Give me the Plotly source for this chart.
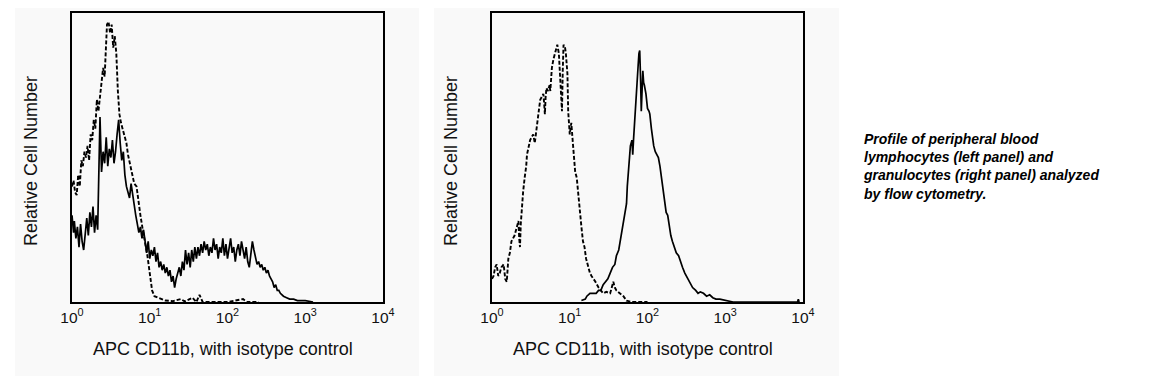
import plotly.graph_objects as go

# ---------------- data (x in log10 fluorescence decades, y relative cell number) ----------
left_iso_log = [0.00, 0.02, 0.04, 0.06, 0.08, 0.10, 0.12, 0.14, 0.16, 0.18, 0.20, 0.22, 0.24, 0.26,
                0.28, 0.30, 0.32, 0.34, 0.36, 0.38, 0.40, 0.42, 0.44, 0.45, 0.47, 0.49, 0.51, 0.53,
                0.55, 0.57, 0.59, 0.61, 0.63, 0.65, 0.67, 0.70, 0.72, 0.75, 0.78, 0.80, 0.83, 0.86,
                0.88, 0.91, 0.94, 0.97, 1.00, 1.03, 1.06, 1.10, 1.15, 1.20, 1.30, 1.40, 1.45, 1.55,
                1.60, 1.64, 1.68, 2.00, 2.20, 2.25, 2.40]
left_iso_val = [40, 42, 38, 37, 44, 40, 49, 47, 52, 50, 54, 49, 58, 56,
                63, 60, 70, 66, 71, 76, 81, 78, 90, 96, 97, 93, 96, 88,
                92, 86, 73, 65, 62, 60, 58, 55, 51, 47, 44, 41, 40, 33,
                30, 25, 21, 16, 10, 4, 2, 1.5, 1, 0.5, 0.3, 1, 0.2, 1.5,
                0, 2.5, 0, 0, 1, 0, 0]

left_cd_log = [0.00, 0.02, 0.03, 0.05, 0.07, 0.09, 0.11, 0.13, 0.15, 0.17, 0.19, 0.21, 0.23, 0.25,
               0.27, 0.29, 0.31, 0.33, 0.35, 0.36, 0.38, 0.40, 0.42, 0.44, 0.46, 0.48, 0.50, 0.52,
               0.54, 0.56, 0.58, 0.60, 0.62, 0.64, 0.66, 0.68, 0.70, 0.72, 0.74, 0.76, 0.78, 0.80,
               0.82, 0.84, 0.86, 0.88, 0.90, 0.92, 0.94, 0.96, 0.98, 1.00, 1.02, 1.04, 1.06, 1.08,
               1.10, 1.12, 1.14, 1.16, 1.18, 1.20, 1.22, 1.24, 1.26, 1.28, 1.30, 1.32, 1.34, 1.36,
               1.38, 1.40, 1.42, 1.44, 1.46, 1.48, 1.50, 1.52, 1.54, 1.56, 1.58, 1.60, 1.62, 1.64,
               1.66, 1.68, 1.70, 1.72, 1.74, 1.76, 1.78, 1.80, 1.82, 1.84, 1.86, 1.88, 1.90, 1.92,
               1.94, 1.96, 1.98, 2.00, 2.02, 2.04, 2.06, 2.08, 2.10, 2.12, 2.14, 2.16, 2.18, 2.20,
               2.22, 2.24, 2.26, 2.28, 2.30, 2.32, 2.34, 2.36, 2.38, 2.40, 2.42, 2.44, 2.46, 2.48,
               2.50, 2.52, 2.54, 2.56, 2.58, 2.60, 2.62, 2.64, 2.66, 2.68, 2.70, 2.72, 2.76, 2.80,
               2.85, 2.90, 3.00, 3.05, 3.10]
left_cd_val = [30, 24, 28, 22, 26, 19, 27, 21, 18, 24, 29, 23, 31, 26,
               33, 24, 30, 25, 50, 64, 45, 52, 48, 57, 47, 53, 50, 56,
               48, 52, 58, 63, 55, 49, 52, 44, 40, 38, 36, 41, 37, 33,
               30, 27, 24, 26, 22, 25, 20, 17, 21, 15, 18, 16, 19, 14,
               17, 12, 14, 11, 13, 10, 12, 9, 11, 7, 9, 5, 8, 10,
               12, 9, 14, 11, 18, 13, 17, 12, 18, 14, 19, 15, 19, 16,
               20, 17, 21, 18, 20, 16, 19, 17, 22, 18, 20, 15, 19, 17,
               22, 16, 20, 15, 18, 22, 17, 19, 14, 18, 20, 16, 21, 18,
               15, 19, 14, 12, 17, 21, 18, 15, 13, 14, 12, 13, 11, 12,
               10, 11, 9, 8, 7, 5, 6, 4, 4, 3, 2.5, 2, 1.5, 1,
               1, 0.5, 0.5, 0.3, 0]

right_iso_log = [0.00, 0.02, 0.04, 0.06, 0.08, 0.10, 0.12, 0.15, 0.17, 0.19, 0.21, 0.23, 0.25, 0.27,
                 0.29, 0.31, 0.33, 0.34, 0.35, 0.36, 0.37, 0.38, 0.40, 0.42, 0.44, 0.45, 0.47, 0.49,
                 0.51, 0.53, 0.55, 0.57, 0.59, 0.60, 0.62, 0.64, 0.66, 0.67, 0.68, 0.69, 0.70, 0.72,
                 0.74, 0.75, 0.77, 0.79, 0.81, 0.83, 0.84, 0.86, 0.87, 0.88, 0.90, 0.91, 0.92, 0.94,
                 0.95, 0.97, 0.98, 1.00, 1.02, 1.04, 1.07, 1.09, 1.11, 1.13, 1.15, 1.17, 1.19, 1.21,
                 1.23, 1.26, 1.28, 1.31, 1.33, 1.37, 1.40, 1.43, 1.47, 1.52, 1.56, 1.58, 1.60, 1.65,
                 1.69, 1.73, 1.80, 2.00]
right_iso_val = [8, 9, 12, 13, 9, 10, 12, 13, 8, 7, 15, 17, 21, 22,
                 23, 25, 27, 28, 22, 19, 27, 32, 38, 43, 47, 51, 54, 56,
                 57, 58, 55, 59, 64, 66, 70, 71, 72, 69, 65, 71, 74, 73,
                 75, 73, 81, 84, 86, 88, 89, 86, 81, 75, 66, 80, 89, 88,
                 86, 79, 66, 58, 62, 55, 45, 43, 37, 30, 26, 21, 19, 15,
                 13, 10, 9, 8, 7, 5, 4, 3, 3.5, 3, 7, 5, 4, 3,
                 2, 0.5, 0, 0]

right_cd_log = [1.15, 1.20, 1.22, 1.26, 1.30, 1.34, 1.37, 1.40, 1.43, 1.46, 1.49, 1.52, 1.55, 1.58,
                1.60, 1.63, 1.65, 1.67, 1.69, 1.71, 1.73, 1.74, 1.75, 1.77, 1.78, 1.80, 1.81, 1.82,
                1.83, 1.84, 1.85, 1.86, 1.87, 1.88, 1.89, 1.90, 1.91, 1.92, 1.93, 1.94, 1.95, 1.96,
                1.98, 1.99, 2.00, 2.02, 2.03, 2.05, 2.06, 2.08, 2.10, 2.12, 2.14, 2.16, 2.18, 2.20,
                2.22, 2.24, 2.26, 2.28, 2.30, 2.32, 2.34, 2.37, 2.40, 2.42, 2.45, 2.48, 2.50, 2.53,
                2.55, 2.58, 2.62, 2.65, 2.68, 2.72, 2.76, 2.80, 2.84, 2.88, 2.93, 3.00, 3.10, 3.93,
                3.94, 3.95]
right_cd_val = [0.5, 1, 2, 3, 3, 3, 4, 4, 6, 7, 8, 10, 12, 13,
                16, 18, 21, 24, 28, 31, 34, 40, 43, 51, 54, 56, 51, 56,
                61, 66, 70, 74, 77, 82, 86, 87, 78, 66, 73, 80, 76, 75,
                72, 70, 67, 66, 65, 60, 58, 54, 52, 51, 50, 47, 43, 38,
                34, 31, 30, 26, 23, 21, 19, 17, 16, 14, 12, 10, 9, 7,
                6, 5, 4, 3, 3.5, 3, 2, 2.5, 1.5, 1, 1, 0.5, 0, 0,
                1, 0]

tick_vals = [1, 10, 100, 1000, 10000]
tick_text = ["10<sup>0</sup>", "10<sup>1</sup>", "10<sup>2</sup>", "10<sup>3</sup>", "10<sup>4</sup>"]

x_title = "APC CD11b, with isotype control"
y_title = "Relative Cell Number"
caption = ("Profile of peripheral blood<br>lymphocytes (left panel) and<br>"
           "granulocytes (right panel) analyzed<br>by flow cytometry.")

# ---------------- figure ----------------
W, H = 1155, 376
OFF = 8  # the page body adds an 8px margin around the figure
FONT = "Liberation Sans, Arial, sans-serif"


def px(x):
    return (x - OFF) / W


def py(y):
    return 1 - (y - OFF) / H


fig = go.Figure()

dash_line = dict(color="black", width=1.9, dash="4px,2px")
solid_line = dict(color="black", width=1.7)

fig.add_trace(go.Scatter(x=[10 ** v for v in left_iso_log], y=left_iso_val, mode="lines",
                         line=dash_line, xaxis="x", yaxis="y", name="Isotype control"))
fig.add_trace(go.Scatter(x=[10 ** v for v in left_cd_log], y=left_cd_val, mode="lines",
                         line=solid_line, xaxis="x", yaxis="y", name="APC CD11b"))
fig.add_trace(go.Scatter(x=[10 ** v for v in right_iso_log], y=right_iso_val, mode="lines",
                         line=dash_line, xaxis="x2", yaxis="y2", name="Isotype control"))
fig.add_trace(go.Scatter(x=[10 ** v for v in right_cd_log], y=right_cd_val, mode="lines",
                         line=solid_line, xaxis="x2", yaxis="y2", name="APC CD11b"))


def xax(x0, x1, anchor):
    return dict(type="log", range=[0, 4], domain=[px(x0), px(x1)], anchor=anchor,
                showline=True, mirror=True, linecolor="black", linewidth=2,
                showgrid=False, zeroline=False, ticks="", tickvals=tick_vals, ticktext=tick_text,
                tickfont=dict(family=FONT, size=15.5, color="#111"), fixedrange=True,
                automargin=False)


def yax(anchor):
    return dict(range=[0, 100], domain=[py(302), py(13)], anchor=anchor,
                showline=True, mirror=True, linecolor="black", linewidth=2,
                showgrid=False, zeroline=False, showticklabels=False, ticks="", fixedrange=True,
                automargin=False)


def ann(text, x, y, size, angle=0):
    return dict(text=text, x=px(x), y=py(y), xref="paper", yref="paper",
                xanchor="center", yanchor="middle", textangle=angle, showarrow=False,
                font=dict(family=FONT, size=size, color="#111"))


fig.update_layout(
    width=W, height=H, autosize=False,
    margin=dict(l=0, r=0, t=0, b=0, pad=0, autoexpand=False),
    paper_bgcolor="white",
    plot_bgcolor="rgba(0,0,0,0)",
    showlegend=False,
    xaxis=xax(72, 383, "y"),
    yaxis=yax("x"),
    xaxis2=xax(492, 803, "y2"),
    yaxis2=yax("x2"),
    shapes=[
        dict(type="rect", xref="paper", yref="paper", x0=px(15), x1=px(419), y0=0, y1=1,
             fillcolor="#f9f9f9", line=dict(width=0), layer="below"),
        dict(type="rect", xref="paper", yref="paper", x0=px(434), x1=px(839), y0=0, y1=1,
             fillcolor="#f9f9f9", line=dict(width=0), layer="below"),
    ],
    annotations=[
        ann(x_title, 223, 349, 18),
        ann(x_title, 643, 349, 18),
        ann(y_title, 31, 161, 18, -90),
        ann(y_title, 451, 161, 18, -90),
        dict(text="<b><i>" + caption + "</i></b>", x=px(861), y=py(166), xref="paper",
             yref="paper", xanchor="left", yanchor="middle", align="left", showarrow=False,
             font=dict(family=FONT, size=14, color="black")),
    ],
)

fig.write_html("out.html")
